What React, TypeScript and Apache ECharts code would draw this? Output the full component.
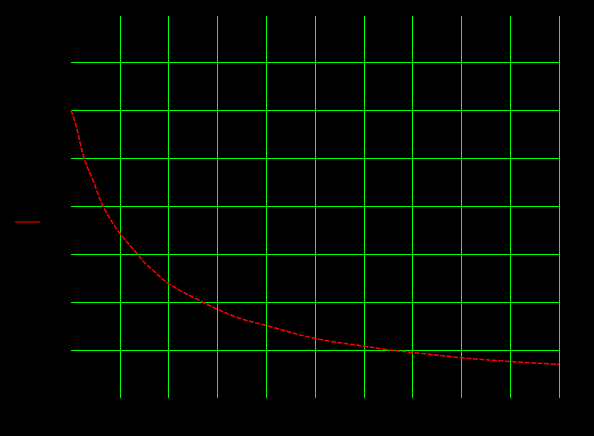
import React, { useEffect, useRef } from "react";
import * as echarts from "echarts";

const seriesName = "y";
const xValues = [0, 0.1, 0.27, 0.46, 0.66, 0.98, 1.37, 1.52, 1.62, 1.99, 2.71, 3.0, 3.46, 4.04, 5, 6, 6.54, 7, 8, 9, 10];
const yValues = [6.0, 5.69, 4.99, 4.51, 3.99, 3.46, 2.99, 2.81, 2.72, 2.39, 1.99, 1.85, 1.66, 1.5, 1.24, 1.08, 1.0, 0.95, 0.84, 0.76, 0.7];
const xTicks = { min: 0, max: 10, interval: 1 };
const yTicks = { min: 0, max: 7.96, interval: 1 };

export default function App() {
  const ref = useRef<HTMLDivElement>(null);
  useEffect(() => {
    if (!ref.current) return;
    const chart = echarts.init(ref.current, null, { renderer: "svg" });
    const data = xValues.map((x, i) => [x, yValues[i]]);
    chart.setOption({
      animation: false,
      backgroundColor: "#000000",
      textStyle: { color: "#000000", fontFamily: "DejaVu Sans" },
      grid: { left: 71, right: 35, top: 16, bottom: 38, containLabel: false },
      legend: {
        left: 10,
        top: 211,
        itemWidth: 25,
        itemHeight: 14,
        textStyle: { color: "#000000" },
        data: [{ name: seriesName, icon: "path://M0,0 L25,0 L25,1 L0,1 Z" }],
      },
      xAxis: {
        type: "value",
        min: xTicks.min,
        max: xTicks.max,
        interval: xTicks.interval,
        axisLine: { show: false },
        axisTick: { show: false },
        axisLabel: { color: "#000000" },
        splitLine: {
          show: true,
          showMinLine: false,
          showMaxLine: true,
          lineStyle: { color: "#00ff00", width: 1 },
        },
      },
      yAxis: {
        type: "value",
        min: yTicks.min,
        max: yTicks.max,
        interval: yTicks.interval,
        axisLine: { show: false },
        axisTick: { show: false },
        axisLabel: { color: "#000000" },
        splitLine: {
          show: true,
          showMinLine: false,
          showMaxLine: false,
          lineStyle: { color: "#00ff00", width: 1 },
        },
      },
      series: [
        {
          name: seriesName,
          type: "line",
          data,
          symbol: "none",
          smooth: 0.35,
          itemStyle: { color: "#ff0000" },
          lineStyle: { color: "#ff0000", width: 1.5, type: [5, 1.5] },
        },
      ],
    });
    return () => chart.dispose();
  }, []);
  return (
    <div
      ref={ref}
      style={{ position: "fixed", left: 0, top: 0, width: 594, height: 436, background: "#000" }}
    />
  );
}
